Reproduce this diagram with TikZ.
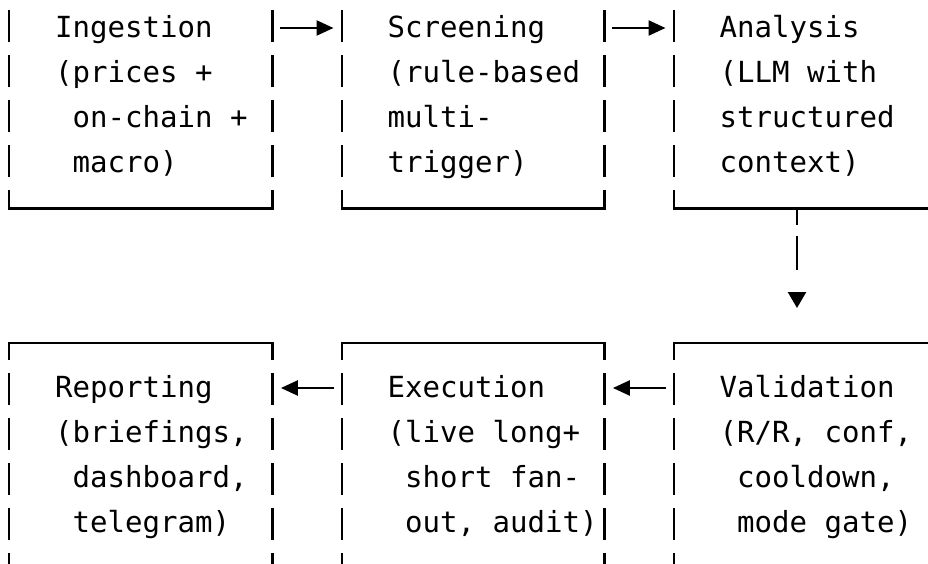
\documentclass[tikz,border=0pt]{standalone}
\usepackage{fontspec}
\setmonofont{DejaVu Sans Mono}
\usetikzlibrary{arrows.meta,calc}
\newlength{\colw}\setlength{\colw}{17.5pt}
\newcommand{\sk}[1]{\hspace*{\dimexpr #1\colw+4.5pt\relax}}
\newcommand{\rowstrut}{\rule[-12pt]{0pt}{42pt}\spaceskip=\fontdimen2\font\relax}
\newcommand{\stagebox}{\node[stage]}
\tikzset{
  stage/.style={anchor=north west, inner xsep=6pt, inner ysep=24pt,
    text width=250pt, align=left,
    font=\ttfamily\fontsize{29.07pt}{45pt}\selectfont},
  wide/.style={minimum width=263pt},
  hbar/.style={line width=2.4pt, line cap=rect},
  vbarup/.style={line width=2.4pt, dash pattern=on 32pt off 13pt, dash phase=14pt},
  vbardn/.style={line width=2.4pt, dash pattern=on 32pt off 13pt, dash phase=15pt},
  harr/.style={line width=2.4pt, -{Triangle[length=17pt,width=15pt]},
    shorten <=8pt, shorten >=8.5pt},
  varr/.style={line width=2.4pt, -{Triangle[length=16pt,width=18pt]},
    dash pattern=on 17pt off 11pt on 34pt off 50pt, shorten >=35pt}
}
\begin{document}
\begin{tikzpicture}[x=1pt,y=-1pt]
	\useasboundingbox (0,0) rectangle (928,564);
	\clip (0,0) rectangle (928,564);
	
	% upper row
	\stagebox[wide] (ing) at (9,-17) {\rowstrut\sk{2}Ingestion\\\rowstrut\sk{2}(prices +\\\rowstrut\sk{3}on-chain +\\\rowstrut\sk{3}macro)};
	\stagebox (scr) at (342,-17) {\rowstrut\sk{2}Screening\\\rowstrut\sk{2}(rule-based\\\rowstrut\sk{2}multi-\\\rowstrut\sk{2}trigger)};
	\stagebox (ana) at (674,-17) {\rowstrut\sk{2}Analysis\\\rowstrut\sk{2}(LLM with\\\rowstrut\sk{2}structured\\\rowstrut\sk{2}context)};
	
	% lower row
	\stagebox[wide] (rep) at (9,343) {\rowstrut\sk{2}Reporting\\\rowstrut\sk{2}(briefings,\\\rowstrut\sk{3}dashboard,\\\rowstrut\sk{3}telegram)};
	\stagebox (exe) at (342,343) {\rowstrut\sk{2}Execution\\\rowstrut\sk{2}(live long+\\\rowstrut\sk{3}short fan-\\\rowstrut\sk{3}out, audit)};
	\stagebox (val) at (674,343) {\rowstrut\sk{2}Validation\\\rowstrut\sk{2}(R/R, conf,\\\rowstrut\sk{3}cooldown,\\\rowstrut\sk{3}mode gate)};
	
	\foreach \b in {ing,scr,ana} {
		\draw[hbar] (\b.south west) -- (\b.south east);
		\draw[vbarup] (\b.south west) -- (\b.north west);
		\draw[vbarup] (\b.south east) -- (\b.north east);
	}
	\foreach \b in {rep,exe,val} {
		\draw[hbar] (\b.north west) -- (\b.north east);
		\draw[vbardn] (\b.north west) -- (\b.south west);
		\draw[vbardn] (\b.north east) -- (\b.south east);
	}
	
	\coordinate (c45) at (797,0);
	
	\draw[harr] ($(ing.north east)+(0,45)$) -- ($(scr.north west)+(0,45)$);
	\draw[harr] ($(scr.north east)+(0,45)$) -- ($(ana.north west)+(0,45)$);
	\draw[varr] (ana.south -| c45) -- (val.north -| c45);
	\draw[harr] ($(val.north west)+(0,45)$) -- ($(exe.north east)+(0,45)$);
	\draw[harr] ($(exe.north west)+(0,45)$) -- ($(rep.north east)+(0,45)$);
	
\end{tikzpicture}
\end{document}
